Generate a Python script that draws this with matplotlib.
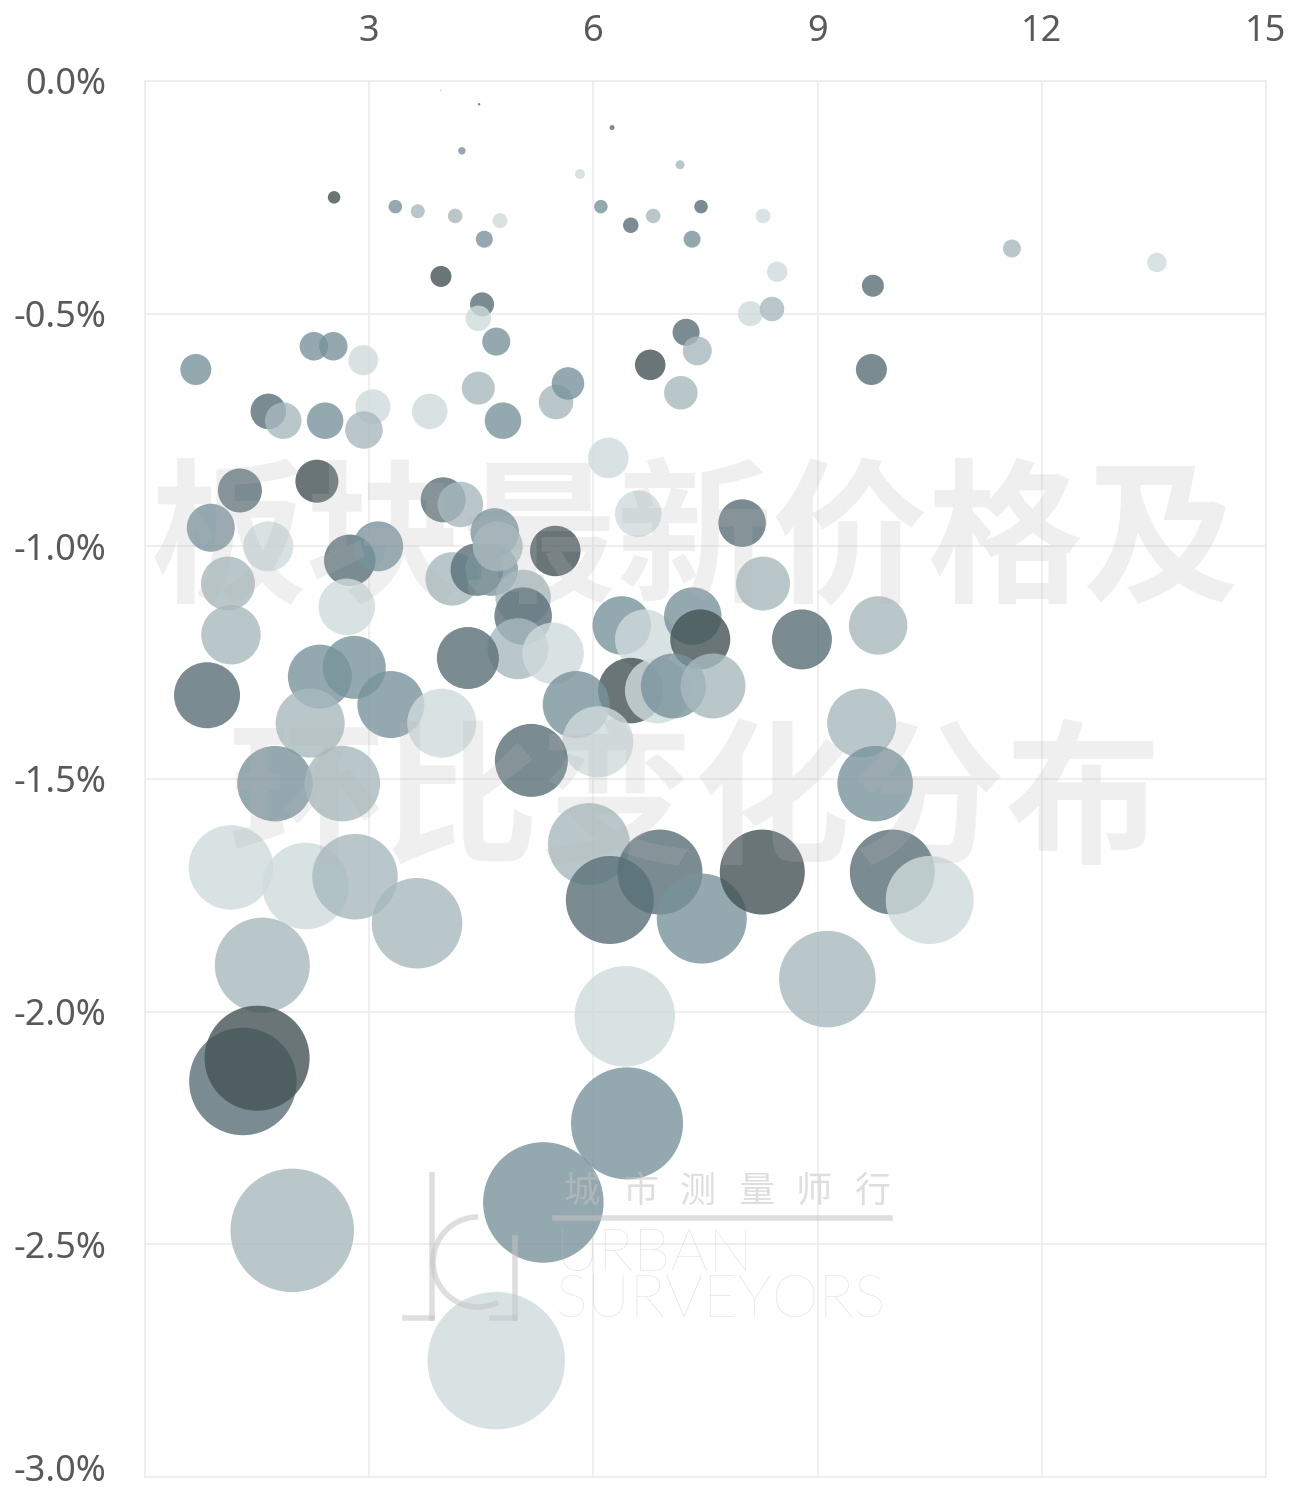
import numpy as np
import matplotlib
matplotlib.use("Agg")
import matplotlib.pyplot as plt
from matplotlib.patches import Arc
from matplotlib.transforms import ScaledTranslation

# 数据：横轴数值，纵轴环比变化(%)，色阶(0 最深 … 4 最浅)
x_vals = [3.96, 4.47, 4.24, 6.25, 5.82, 7.16, 2.53, 3.35, 3.65, 4.15,
          4.75, 4.54, 6.10, 6.50, 6.80, 7.44, 7.32, 8.27, 8.46, 8.10,
          8.39, 11.60, 13.54, 9.74, 3.96, 4.51, 4.46, 4.70, 7.24, 7.39,
          6.76, 7.17, 9.72, 0.68, 2.26, 2.52, 2.92, 1.65, 1.85, 2.41,
          3.05, 2.93, 3.81, 4.46, 4.79, 5.50, 5.66, 6.20, 1.27, 2.30,
          0.88, 1.65, 1.11, 2.74, 3.12, 2.70, 3.99, 4.22, 4.11, 4.44,
          4.64, 4.68, 4.72, 5.49, 7.99, 8.27, 6.60, 5.06, 5.06, 4.99,
          5.46, 4.32, 6.38, 6.69, 7.33, 7.43, 8.79, 9.81, 6.50, 6.86,
          7.07, 7.60, 5.77, 6.06, 5.17, 5.94, 6.22, 6.89, 7.45, 8.26,
          1.15, 0.83, 2.34, 2.80, 2.21, 3.29, 3.97, 1.74, 2.64, 1.15,
          2.15, 2.81, 3.64, 9.59, 9.77, 10.00, 10.50, 1.57, 1.31, 1.50,
          1.97, 5.33, 6.45, 6.42, 4.70, 9.13]

y_vals = [-0.02, -0.05, -0.15, -0.10, -0.20, -0.18, -0.25, -0.27, -0.28, -0.29,
          -0.30, -0.34, -0.27, -0.31, -0.29, -0.27, -0.34, -0.29, -0.41, -0.50,
          -0.49, -0.36, -0.39, -0.44, -0.42, -0.48, -0.51, -0.56, -0.54, -0.58,
          -0.61, -0.67, -0.62, -0.62, -0.57, -0.57, -0.60, -0.71, -0.73, -0.73,
          -0.70, -0.75, -0.71, -0.66, -0.73, -0.69, -0.65, -0.81, -0.88, -0.86,
          -0.96, -1.00, -1.08, -1.03, -1.00, -1.13, -0.90, -0.91, -1.07, -1.05,
          -1.05, -0.97, -1.00, -1.01, -0.95, -1.08, -0.93, -1.11, -1.15, -1.22,
          -1.23, -1.24, -1.17, -1.20, -1.15, -1.20, -1.20, -1.17, -1.31, -1.31,
          -1.30, -1.30, -1.34, -1.42, -1.46, -1.64, -1.76, -1.70, -1.80, -1.70,
          -1.19, -1.32, -1.28, -1.26, -1.38, -1.34, -1.38, -1.51, -1.51, -1.69,
          -1.73, -1.71, -1.81, -1.38, -1.51, -1.70, -1.76, -1.90, -2.15, -2.10,
          -2.47, -2.41, -2.24, -2.01, -2.75, -1.93]

tone = [1, 1, 2, 1, 4, 3, 0, 2, 3, 3,
        4, 2, 2, 1, 3, 1, 2, 4, 4, 4,
        3, 3, 4, 1, 0, 1, 4, 2, 1, 3,
        0, 3, 1, 2, 2, 2, 4, 1, 3, 2,
        4, 3, 4, 3, 2, 3, 2, 4, 1, 0,
        2, 4, 3, 1, 2, 4, 1, 3, 3, 1,
        2, 2, 3, 0, 1, 3, 4, 3, 1, 3,
        4, 1, 2, 4, 2, 0, 1, 3, 0, 4,
        2, 3, 2, 4, 1, 3, 1, 1, 2, 0,
        3, 1, 2, 2, 3, 2, 4, 2, 3, 4,
        4, 3, 3, 3, 2, 1, 4, 3, 1, 0,
        3, 2, 2, 4, 4, 3]

x_ticks = [0, 3, 6, 9, 12, 15]
x_labels = ['', '3', '6', '9', '12', '15']
y_ticks = [0.0, -0.5, -1.0, -1.5, -2.0, -2.5, -3.0]

palette = ['#445355', '#597077', '#78939b', '#a8babf', '#d0dbdd']

plt.rcParams['font.family'] = ['Noto Sans', 'Noto Sans CJK SC', 'DejaVu Sans']

fig = plt.figure(figsize=(13.03, 14.96), dpi=100)
ax = fig.add_axes([145 / 1303, 1 - 1477 / 1496, 1121 / 1303, 1396 / 1496])

colores = [palette[t] for t in tone]
tamanos = [(36.0 * abs(v)) ** 2 for v in y_vals]
ax.scatter(x_vals, y_vals, s=tamanos, c=colores, alpha=0.8, linewidths=0, zorder=3)

ax.set_xlim(0, 15)
ax.set_ylim(-3.0, 0.0)
ax.set_xticks(x_ticks)
ax.set_xticklabels(x_labels)
ax.set_yticks(y_ticks)
ax.set_yticklabels([f'{t:.1f}%' for t in y_ticks])
ax.xaxis.tick_top()
ax.tick_params(axis='both', length=0, labelsize=26, labelcolor='#595959')
ax.tick_params(axis='x', pad=22)
ax.tick_params(axis='y', pad=28)
ax.grid(True, color='#ececec', linewidth=1.2, zorder=0)
ax.set_axisbelow(True)
for lado in ax.spines.values():
    lado.set_color('#ececec')
    lado.set_linewidth(1.2)

# la ultima etiqueta queda pegada al borde: subirla un poco
ultima = ax.get_yticklabels()[-1]
ultima.set_transform(ultima.get_transform() + ScaledTranslation(0, 7 / 72, fig.dpi_scale_trans))

# marca de agua
marca = dict(transform=ax.transAxes, ha='center', va='center', color='#b5b5b5',
             alpha=0.21, fontsize=112, fontweight='bold',
             family=['Noto Sans CJK SC', 'DejaVu Sans'], zorder=5)
ax.text(0.4906, 0.6683, '板块最新价格及', **marca)
ax.text(0.4906, 0.4803, '环比变化分布', **marca)

# logo
gris = '#c4c4c4'
for i, ch in enumerate('城市测量师行'):
    fig.text((582 + i * 58) / 1303, 1 - 1192 / 1496, ch, ha='center', va='center',
             fontsize=26, color=gris, alpha=0.55, family=['Noto Sans CJK SC'], zorder=6)
fig.add_artist(plt.Line2D([555 / 1303, 890 / 1303], [1 - 1218 / 1496] * 2,
                          color=gris, alpha=0.55, linewidth=4))
fig.text(556 / 1303, 1 - 1278 / 1496, 'URBAN\nSURVEYORS', ha='left', va='center',
         fontsize=43, color=gris, alpha=0.5, family=['Lato'], fontweight='light',
         linespacing=0.8)
for xs, ys in [([432, 432], [1175, 1318]), ([405, 432], [1318, 1318]),
               ([515, 515], [1238, 1318]), ([492, 515], [1318, 1318])]:
    fig.add_artist(plt.Line2D([p / 1303 for p in xs], [1 - p / 1496 for p in ys],
                              color=gris, alpha=0.55, linewidth=4))
arco = Arc((478 / 1303, 1 - 1262 / 1496), 90 / 1303, 90 / 1496, theta1=90, theta2=300,
           transform=fig.transFigure, color=gris, alpha=0.55, linewidth=4)
fig.add_artist(arco)

plt.savefig('out.png', dpi=100)
plt.close()
